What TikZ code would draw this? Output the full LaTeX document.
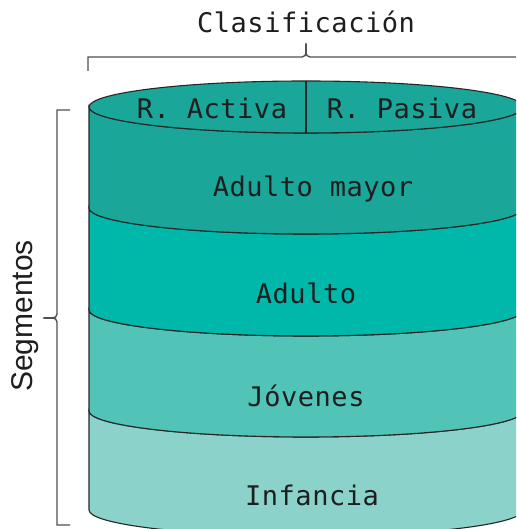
\documentclass[tikz,border=0pt]{standalone}
\usepackage{fontspec}
\setmainfont{Liberation Sans}
\newfontfamily\monof[LetterSpace=2]{DejaVu Sans Mono}
\definecolor{cTop}{RGB}{26,166,152}
\definecolor{cAdu}{RGB}{0,184,170}
\definecolor{cJov}{RGB}{82,195,183}
\definecolor{cInf}{RGB}{138,210,202}
\definecolor{cTxt}{RGB}{30,30,30}
\definecolor{cBr}{RGB}{80,80,80}
\begin{document}
\begin{tikzpicture}[x=1pt,y=1pt,
  layer/.style={draw=black!85,line width=1.1pt},
  lbl/.style={font=\monof\fontsize{27}{30}\selectfont,text=cTxt,inner sep=0pt},
  brk/.style={draw=cBr,line width=1.4pt}]
\useasboundingbox (0,0) rectangle (516,529);
\clip (0,0) rectangle (516,529);
\def\cx{306}\def\rx{217}\def\ry{26}
% layers (bottom to top)
\filldraw[layer,fill=cInf] (\cx-\rx,118) -- (\cx-\rx,19) arc[start angle=180,end angle=360,x radius=\rx,y radius=\ry] -- (\cx+\rx,118) arc[start angle=360,end angle=180,x radius=\rx,y radius=\ry] -- cycle;
\filldraw[layer,fill=cJov] (\cx-\rx,219) -- (\cx-\rx,118) arc[start angle=180,end angle=360,x radius=\rx,y radius=\ry] -- (\cx+\rx,219) arc[start angle=360,end angle=180,x radius=\rx,y radius=\ry] -- cycle;
\filldraw[layer,fill=cAdu] (\cx-\rx,321) -- (\cx-\rx,219) arc[start angle=180,end angle=360,x radius=\rx,y radius=\ry] -- (\cx+\rx,321) arc[start angle=360,end angle=180,x radius=\rx,y radius=\ry] -- cycle;
\filldraw[layer,fill=cTop] (\cx-\rx,422) -- (\cx-\rx,321) arc[start angle=180,end angle=360,x radius=\rx,y radius=\ry] -- (\cx+\rx,422) arc[start angle=360,end angle=180,x radius=\rx,y radius=\ry] -- cycle;
\filldraw[layer,fill=cTop] (\cx,422) ellipse[x radius=\rx,y radius=\ry];
\draw[layer] (\cx,422+\ry) -- (\cx,422-\ry);
% labels
\node[lbl] (act) at (212,421) {R. Activa};
\node[lbl] (pas) at (402,421) {R. Pasiva};
\node[lbl] (am) at (313,340) {Adulto mayor};
\node[lbl] (ad) at (306,236) {Adulto};
\node[lbl] (jo) at (306,133) {Jóvenes};
\node[lbl] (in) at (312,34) {Infancia};
\node[lbl] (cl) at (306,507) {Clasificación};
\node[font=\fontsize{30}{33}\selectfont,text=cTxt,rotate=90,inner sep=0pt] (seg) at (25,213) {Segmentos};
% brackets
\draw[brk] (88,458) -- (88,472) -- (302,472) to[out=0,in=-90] (306,486) to[out=-90,in=180] (310,472) -- (530,472);
\draw[brk] (70,419) -- (57,419) -- (57,215) to[out=-90,in=0] (43,211) to[out=0,in=90] (57,207) -- (57,4) -- (70,4);
\end{tikzpicture}
\end{document}
